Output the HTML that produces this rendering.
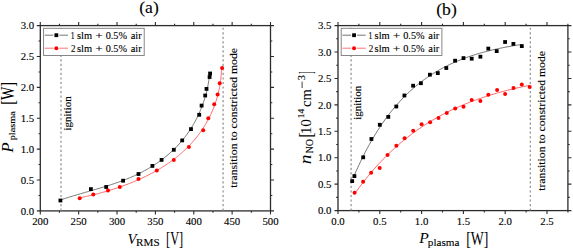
<!DOCTYPE html>
<html><head><meta charset="utf-8"><style>
html,body{margin:0;padding:0;background:#fff;}
svg{display:block;}
text{font-family:"Liberation Serif", serif;fill:#000;stroke:#000;stroke-width:0.12px;}
</style></head><body>
<svg width="573" height="249" viewBox="0 0 573 249">
<rect width="573" height="249" fill="#fff"/>
<path d="M40.30,210.90v3.5M40.30,25.60v-3.5M78.67,210.90v3.5M78.67,25.60v-3.5M117.03,210.90v3.5M117.03,25.60v-3.5M155.40,210.90v3.5M155.40,25.60v-3.5M193.77,210.90v3.5M193.77,25.60v-3.5M232.13,210.90v3.5M232.13,25.60v-3.5M270.50,210.90v3.5M270.50,25.60v-3.5M59.48,210.90v1.8M59.48,25.60v-1.8M97.85,210.90v1.8M97.85,25.60v-1.8M136.22,210.90v1.8M136.22,25.60v-1.8M174.58,210.90v1.8M174.58,25.60v-1.8M212.95,210.90v1.8M212.95,25.60v-1.8M251.32,210.90v1.8M251.32,25.60v-1.8M40.30,210.90h-3.5M270.50,210.90h3.5M40.30,180.02h-3.5M270.50,180.02h3.5M40.30,149.13h-3.5M270.50,149.13h3.5M40.30,118.25h-3.5M270.50,118.25h3.5M40.30,87.37h-3.5M270.50,87.37h3.5M40.30,56.48h-3.5M270.50,56.48h3.5M40.30,25.60h-3.5M270.50,25.60h3.5M40.30,195.46h-1.8M270.50,195.46h1.8M40.30,164.57h-1.8M270.50,164.57h1.8M40.30,133.69h-1.8M270.50,133.69h1.8M40.30,102.81h-1.8M270.50,102.81h1.8M40.30,71.93h-1.8M270.50,71.93h1.8M40.30,41.04h-1.8M270.50,41.04h1.8" stroke="#2c2c2c" stroke-width="1.1" fill="none"/>
<rect x="40.30" y="25.60" width="230.20" height="185.30" stroke="#2c2c2c" stroke-width="1.3" fill="none"/>
<path d="M61.00,27.66V210.90" stroke="#8e8e8e" stroke-width="1.2" stroke-dasharray="2.2,2.32" fill="none"/>
<path d="M223.10,27.66V210.90" stroke="#8e8e8e" stroke-width="1.2" stroke-dasharray="2.2,2.32" fill="none"/>
<path d="M60.37,200.00 L61.67,199.56 L62.97,199.13 L64.27,198.70 L65.59,198.28 L66.90,197.86 L68.22,197.44 L69.55,197.03 L70.88,196.63 L72.21,196.22 L73.55,195.82 L74.89,195.42 L76.23,195.02 L77.58,194.62 L78.93,194.23 L80.28,193.83 L81.64,193.44 L83.00,193.05 L84.36,192.66 L85.72,192.26 L87.09,191.87 L88.45,191.48 L89.82,191.08 L91.19,190.69 L92.56,190.29 L93.93,189.89 L95.31,189.49 L96.68,189.09 L98.05,188.69 L99.42,188.28 L100.79,187.87 L102.17,187.45 L103.54,187.03 L104.91,186.61 L106.28,186.19 L107.65,185.75 L109.01,185.32 L110.38,184.88 L111.74,184.43 L113.10,183.98 L114.46,183.52 L115.82,183.06 L117.18,182.58 L118.53,182.11 L119.88,181.62 L121.22,181.13 L122.56,180.63 L123.90,180.12 L125.24,179.60 L126.57,179.07 L127.89,178.54 L129.21,178.00 L130.53,177.44 L131.84,176.88 L133.15,176.31 L134.45,175.72 L135.75,175.13 L137.04,174.52 L138.32,173.91 L139.60,173.28 L140.88,172.64 L142.14,171.99 L143.40,171.33 L144.66,170.65 L145.90,169.97 L147.14,169.27 L148.37,168.56 L149.60,167.84 L150.81,167.11 L152.02,166.37 L153.22,165.61 L154.41,164.84 L155.60,164.06 L156.77,163.27 L157.94,162.47 L159.09,161.66 L160.24,160.83 L161.38,160.00 L162.51,159.15 L163.63,158.29 L164.74,157.42 L165.84,156.53 L166.93,155.64 L168.01,154.73 L169.07,153.81 L170.13,152.88 L171.18,151.94 L172.21,150.99 L173.24,150.02 L174.25,149.05 L175.25,148.06 L176.24,147.06 L177.21,146.05 L178.18,145.02 L179.13,143.99 L180.07,142.94 L180.99,141.88 L181.91,140.81 L182.81,139.73 L183.70,138.64 L184.57,137.53 L185.43,136.41 L186.28,135.29 L187.11,134.15 L187.93,133.00 L188.73,131.84 L189.53,130.67 L190.30,129.49 L191.07,128.30 L191.82,127.10 L192.56,125.89 L193.28,124.67 L193.99,123.45 L194.68,122.21 L195.36,120.96 L196.03,119.71 L196.68,118.45 L197.32,117.18 L197.94,115.90 L198.55,114.61 L199.14,113.32 L199.72,112.02 L200.28,110.71 L200.83,109.39 L201.37,108.07 L201.89,106.74 L202.39,105.40 L202.88,104.06 L203.35,102.71 L203.81,101.35 L204.26,99.99 L204.69,98.62 L205.10,97.25 L205.50,95.87 L205.88,94.49 L206.25,93.10 L206.60,91.71 L206.93,90.31 L207.25,88.91 L207.56,87.51 L207.85,86.10 L208.12,84.68 L208.37,83.27 L208.61,81.85 L208.84,80.42 L209.05,79.00 L209.24,77.57 L209.41,76.13 L209.57,74.70 L209.71,73.26" stroke="#555" stroke-width="0.8" fill="none" stroke-linejoin="round"/>
<path d="M79.77,197.80 L81.09,197.53 L82.42,197.25 L83.75,196.97 L85.09,196.68 L86.42,196.39 L87.76,196.09 L89.10,195.78 L90.45,195.47 L91.79,195.15 L93.14,194.82 L94.49,194.49 L95.84,194.15 L97.19,193.81 L98.54,193.46 L99.90,193.10 L101.25,192.73 L102.61,192.36 L103.96,191.98 L105.32,191.60 L106.67,191.21 L108.03,190.81 L109.39,190.40 L110.74,189.99 L112.09,189.57 L113.45,189.14 L114.80,188.70 L116.15,188.26 L117.50,187.81 L118.85,187.35 L120.20,186.89 L121.55,186.42 L122.89,185.94 L124.23,185.45 L125.57,184.95 L126.91,184.45 L128.24,183.94 L129.57,183.42 L130.90,182.89 L132.22,182.36 L133.54,181.82 L134.86,181.27 L136.18,180.71 L137.49,180.14 L138.79,179.57 L140.10,178.98 L141.39,178.39 L142.69,177.79 L143.97,177.18 L145.26,176.56 L146.54,175.94 L147.81,175.30 L149.08,174.66 L150.34,174.01 L151.60,173.35 L152.85,172.68 L154.09,172.00 L155.33,171.31 L156.56,170.61 L157.79,169.91 L159.00,169.19 L160.21,168.47 L161.42,167.73 L162.62,166.99 L163.80,166.24 L164.99,165.48 L166.16,164.71 L167.33,163.93 L168.48,163.13 L169.63,162.33 L170.77,161.53 L171.90,160.71 L173.03,159.88 L174.14,159.04 L175.25,158.19 L176.34,157.33 L177.43,156.46 L178.50,155.58 L179.57,154.69 L180.63,153.79 L181.67,152.88 L182.71,151.96 L183.73,151.03 L184.75,150.09 L185.75,149.14 L186.74,148.18 L187.72,147.21 L188.69,146.22 L189.65,145.23 L190.59,144.23 L191.53,143.21 L192.45,142.19 L193.36,141.15 L194.26,140.11 L195.14,139.05 L196.02,137.98 L196.88,136.91 L197.72,135.82 L198.56,134.72 L199.38,133.62 L200.19,132.50 L200.99,131.38 L201.77,130.24 L202.54,129.10 L203.30,127.94 L204.04,126.78 L204.77,125.60 L205.48,124.42 L206.18,123.23 L206.87,122.03 L207.54,120.82 L208.20,119.60 L208.85,118.37 L209.48,117.13 L210.09,115.89 L210.69,114.63 L211.28,113.37 L211.85,112.10 L212.40,110.82 L212.95,109.53 L213.47,108.23 L213.98,106.93 L214.48,105.61 L214.95,104.29 L215.42,102.96 L215.86,101.62 L216.30,100.28 L216.71,98.92 L217.11,97.56 L217.49,96.19 L217.86,94.81 L218.21,93.43 L218.54,92.04 L218.86,90.64 L219.16,89.23 L219.44,87.82 L219.70,86.40 L219.95,84.97 L220.18,83.53 L220.40,82.09 L220.59,80.64 L220.77,79.18 L220.93,77.72 L221.07,76.25 L221.20,74.78 L221.30,73.29 L221.39,71.80 L221.46,70.31 L221.51,68.80 L221.54,67.30" stroke="#f44" stroke-width="0.8" fill="none" stroke-linejoin="round"/>
<rect x="58.50" y="198.60" width="3.8" height="3.8" fill="#000"/><rect x="89.00" y="187.20" width="3.8" height="3.8" fill="#000"/><rect x="104.30" y="185.10" width="3.8" height="3.8" fill="#000"/><rect x="121.20" y="178.80" width="3.8" height="3.8" fill="#000"/><rect x="136.60" y="172.10" width="3.8" height="3.8" fill="#000"/><rect x="150.50" y="164.00" width="3.8" height="3.8" fill="#000"/><rect x="159.70" y="158.00" width="3.8" height="3.8" fill="#000"/><rect x="171.90" y="147.90" width="3.8" height="3.8" fill="#000"/><rect x="180.30" y="138.50" width="3.8" height="3.8" fill="#000"/><rect x="189.10" y="127.20" width="3.8" height="3.8" fill="#000"/><rect x="197.30" y="112.90" width="3.8" height="3.8" fill="#000"/><rect x="199.70" y="103.70" width="3.8" height="3.8" fill="#000"/><rect x="203.30" y="93.60" width="3.8" height="3.8" fill="#000"/><rect x="204.60" y="87.00" width="3.8" height="3.8" fill="#000"/><rect x="207.70" y="75.10" width="3.8" height="3.8" fill="#000"/><rect x="208.20" y="71.60" width="3.8" height="3.8" fill="#000"/>
<circle cx="79.70" cy="198.30" r="2.0" fill="#f00"/><circle cx="93.30" cy="194.60" r="2.0" fill="#f00"/><circle cx="108.00" cy="190.40" r="2.0" fill="#f00"/><circle cx="119.80" cy="187.10" r="2.0" fill="#f00"/><circle cx="138.50" cy="178.90" r="2.0" fill="#f00"/><circle cx="156.80" cy="170.40" r="2.0" fill="#f00"/><circle cx="173.80" cy="159.90" r="2.0" fill="#f00"/><circle cx="188.90" cy="147.00" r="2.0" fill="#f00"/><circle cx="203.20" cy="130.30" r="2.0" fill="#f00"/><circle cx="208.30" cy="118.20" r="2.0" fill="#f00"/><circle cx="214.20" cy="104.30" r="2.0" fill="#f00"/><circle cx="217.60" cy="94.60" r="2.0" fill="#f00"/><circle cx="219.70" cy="83.30" r="2.0" fill="#f00"/><circle cx="222.10" cy="68.00" r="2.0" fill="#f00"/>
<text x="40.30" y="225.00" font-size="10.8" text-anchor="middle" >200</text>
<text x="78.67" y="225.00" font-size="10.8" text-anchor="middle" >250</text>
<text x="117.03" y="225.00" font-size="10.8" text-anchor="middle" >300</text>
<text x="155.40" y="225.00" font-size="10.8" text-anchor="middle" >350</text>
<text x="193.77" y="225.00" font-size="10.8" text-anchor="middle" >400</text>
<text x="232.13" y="225.00" font-size="10.8" text-anchor="middle" >450</text>
<text x="270.50" y="225.00" font-size="10.8" text-anchor="middle" >500</text>
<text x="34.20" y="214.60" font-size="10.8" text-anchor="end" >0.0</text>
<text x="34.20" y="183.72" font-size="10.8" text-anchor="end" >0.5</text>
<text x="34.20" y="152.83" font-size="10.8" text-anchor="end" >1.0</text>
<text x="34.20" y="121.95" font-size="10.8" text-anchor="end" >1.5</text>
<text x="34.20" y="91.07" font-size="10.8" text-anchor="end" >2.0</text>
<text x="34.20" y="60.18" font-size="10.8" text-anchor="end" >2.5</text>
<text x="34.20" y="29.30" font-size="10.8" text-anchor="end" >3.0</text>
<text x="149.00" y="13.20" font-size="17.6" text-anchor="middle" >(a)</text>
<rect x="43.60" y="28.30" width="100.60" height="27.20" stroke="#7a7a7a" stroke-width="0.9" fill="#fff"/>
<path d="M44.70,35.20H53.35M59.35,35.20H68.00" stroke="#666" stroke-width="0.9"/>
<rect x="54.45" y="33.30" width="3.8" height="3.8" fill="#000"/>
<path d="M44.70,48.20H53.35M59.35,48.20H68.00" stroke="#f66" stroke-width="0.9"/>
<circle cx="56.35" cy="48.20" r="2.0" fill="#f00"/>
<text x="70.78" y="38.50" font-size="10.00" textLength="3.83" lengthAdjust="spacingAndGlyphs">1</text>
<text x="77.02" y="38.50" font-size="10.00" textLength="15.09" lengthAdjust="spacingAndGlyphs">slm</text>
<text x="95.29" y="38.50" font-size="10.00" textLength="7.51" lengthAdjust="spacingAndGlyphs">+</text>
<text x="105.66" y="38.50" font-size="10.00" textLength="21.34" lengthAdjust="spacingAndGlyphs">0.5%</text>
<text x="130.68" y="38.50" font-size="10.00" textLength="11.06" lengthAdjust="spacingAndGlyphs">air</text>
<text x="71.06" y="51.50" font-size="10.00" textLength="4.49" lengthAdjust="spacingAndGlyphs">2</text>
<text x="77.02" y="51.50" font-size="10.00" textLength="15.09" lengthAdjust="spacingAndGlyphs">slm</text>
<text x="95.29" y="51.50" font-size="10.00" textLength="7.51" lengthAdjust="spacingAndGlyphs">+</text>
<text x="105.66" y="51.50" font-size="10.00" textLength="21.34" lengthAdjust="spacingAndGlyphs">0.5%</text>
<text x="130.68" y="51.50" font-size="10.00" textLength="11.06" lengthAdjust="spacingAndGlyphs">air</text>
<text transform="rotate(-90)" x="-130.53" y="71.26" font-size="9.91" textLength="34.20" lengthAdjust="spacingAndGlyphs" >ignition</text>
<text transform="rotate(-90)" x="-187.71" y="236.71" font-size="9.52" textLength="139.72" lengthAdjust="spacingAndGlyphs" >transition to constricted mode</text>
<path d="M338.00,210.60v3.5M338.00,25.60v-3.5M379.80,210.60v3.5M379.80,25.60v-3.5M421.60,210.60v3.5M421.60,25.60v-3.5M463.40,210.60v3.5M463.40,25.60v-3.5M505.20,210.60v3.5M505.20,25.60v-3.5M547.00,210.60v3.5M547.00,25.60v-3.5M358.90,210.60v1.8M358.90,25.60v-1.8M400.70,210.60v1.8M400.70,25.60v-1.8M442.50,210.60v1.8M442.50,25.60v-1.8M484.30,210.60v1.8M484.30,25.60v-1.8M526.10,210.60v1.8M526.10,25.60v-1.8M567.90,210.60v1.8M567.90,25.60v-1.8M338.00,210.60h-3.5M567.90,210.60h3.5M338.00,184.17h-3.5M567.90,184.17h3.5M338.00,157.74h-3.5M567.90,157.74h3.5M338.00,131.31h-3.5M567.90,131.31h3.5M338.00,104.89h-3.5M567.90,104.89h3.5M338.00,78.46h-3.5M567.90,78.46h3.5M338.00,52.03h-3.5M567.90,52.03h3.5M338.00,25.60h-3.5M567.90,25.60h3.5M338.00,197.39h-1.8M567.90,197.39h1.8M338.00,170.96h-1.8M567.90,170.96h1.8M338.00,144.53h-1.8M567.90,144.53h1.8M338.00,118.10h-1.8M567.90,118.10h1.8M338.00,91.67h-1.8M567.90,91.67h1.8M338.00,65.24h-1.8M567.90,65.24h1.8M338.00,38.81h-1.8M567.90,38.81h1.8" stroke="#2c2c2c" stroke-width="1.1" fill="none"/>
<rect x="338.00" y="25.60" width="229.90" height="185.00" stroke="#2c2c2c" stroke-width="1.3" fill="none"/>
<path d="M351.10,27.66V210.60" stroke="#8e8e8e" stroke-width="1.2" stroke-dasharray="2.2,2.32" fill="none"/>
<path d="M530.30,27.66V210.60" stroke="#8e8e8e" stroke-width="1.2" stroke-dasharray="2.2,2.32" fill="none"/>
<path d="M354.40,175.11 L356.52,170.30 L358.64,165.66 L360.76,161.18 L362.88,156.85 L364.99,152.67 L367.11,148.64 L369.23,144.74 L371.35,140.98 L373.47,137.35 L375.59,133.85 L377.71,130.46 L379.83,127.20 L381.95,124.04 L384.07,121.00 L386.18,118.06 L388.30,115.22 L390.42,112.48 L392.54,109.83 L394.66,107.28 L396.78,104.81 L398.90,102.43 L401.02,100.13 L403.14,97.91 L405.26,95.76 L407.37,93.69 L409.49,91.70 L411.61,89.77 L413.73,87.90 L415.85,86.11 L417.97,84.37 L420.09,82.69 L422.21,81.08 L424.33,79.51 L426.45,78.00 L428.56,76.55 L430.68,75.14 L432.80,73.78 L434.92,72.47 L437.04,71.21 L439.16,69.99 L441.28,68.81 L443.40,67.67 L445.52,66.57 L447.64,65.50 L449.75,64.48 L451.87,63.49 L453.99,62.53 L456.11,61.61 L458.23,60.72 L460.35,59.86 L462.47,59.03 L464.59,58.23 L466.71,57.46 L468.83,56.71 L470.94,55.99 L473.06,55.29 L475.18,54.62 L477.30,53.97 L479.42,53.34 L481.54,52.74 L483.66,52.15 L485.78,51.59 L487.90,51.04 L490.02,50.52 L492.13,50.01 L494.25,49.52 L496.37,49.05 L498.49,48.59 L500.61,48.15 L502.73,47.72 L504.85,47.31 L506.97,46.91 L509.09,46.53 L511.21,46.16 L513.32,45.80 L515.44,45.46 L517.56,45.12 L519.68,44.80 L521.80,44.49" stroke="#555" stroke-width="0.8" fill="none" stroke-linejoin="round"/>
<path d="M354.60,193.92 L356.82,190.81 L359.03,187.78 L361.25,184.82 L363.47,181.94 L365.68,179.12 L367.90,176.38 L370.12,173.70 L372.33,171.09 L374.55,168.54 L376.76,166.06 L378.98,163.64 L381.20,161.27 L383.41,158.97 L385.63,156.72 L387.85,154.53 L390.06,152.39 L392.28,150.30 L394.50,148.27 L396.71,146.28 L398.93,144.35 L401.15,142.46 L403.36,140.62 L405.58,138.82 L407.79,137.07 L410.01,135.36 L412.23,133.69 L414.44,132.07 L416.66,130.48 L418.88,128.93 L421.09,127.43 L423.31,125.96 L425.53,124.52 L427.74,123.12 L429.96,121.76 L432.18,120.42 L434.39,119.13 L436.61,117.86 L438.83,116.62 L441.04,115.42 L443.26,114.24 L445.47,113.10 L447.69,111.98 L449.91,110.89 L452.12,109.82 L454.34,108.79 L456.56,107.77 L458.77,106.79 L460.99,105.82 L463.21,104.89 L465.42,103.97 L467.64,103.08 L469.86,102.20 L472.07,101.35 L474.29,100.53 L476.51,99.72 L478.72,98.93 L480.94,98.16 L483.15,97.41 L485.37,96.68 L487.59,95.96 L489.80,95.27 L492.02,94.59 L494.24,93.93 L496.45,93.28 L498.67,92.65 L500.89,92.04 L503.10,91.44 L505.32,90.85 L507.54,90.28 L509.75,89.73 L511.97,89.18 L514.18,88.65 L516.40,88.14 L518.62,87.64 L520.83,87.14 L523.05,86.67 L525.27,86.20 L527.48,85.74 L529.70,85.30" stroke="#f44" stroke-width="0.8" fill="none" stroke-linejoin="round"/>
<rect x="350.30" y="179.20" width="3.8" height="3.8" fill="#000"/><rect x="352.50" y="174.20" width="3.8" height="3.8" fill="#000"/><rect x="361.30" y="155.40" width="3.8" height="3.8" fill="#000"/><rect x="369.50" y="137.10" width="3.8" height="3.8" fill="#000"/><rect x="377.90" y="122.90" width="3.8" height="3.8" fill="#000"/><rect x="386.40" y="115.00" width="3.8" height="3.8" fill="#000"/><rect x="394.40" y="104.60" width="3.8" height="3.8" fill="#000"/><rect x="402.50" y="93.60" width="3.8" height="3.8" fill="#000"/><rect x="411.20" y="83.80" width="3.8" height="3.8" fill="#000"/><rect x="419.00" y="81.30" width="3.8" height="3.8" fill="#000"/><rect x="428.00" y="72.80" width="3.8" height="3.8" fill="#000"/><rect x="435.90" y="71.20" width="3.8" height="3.8" fill="#000"/><rect x="444.40" y="66.10" width="3.8" height="3.8" fill="#000"/><rect x="453.20" y="58.80" width="3.8" height="3.8" fill="#000"/><rect x="461.60" y="56.20" width="3.8" height="3.8" fill="#000"/><rect x="469.80" y="56.80" width="3.8" height="3.8" fill="#000"/><rect x="478.50" y="54.80" width="3.8" height="3.8" fill="#000"/><rect x="486.40" y="46.70" width="3.8" height="3.8" fill="#000"/><rect x="494.80" y="49.20" width="3.8" height="3.8" fill="#000"/><rect x="503.20" y="40.10" width="3.8" height="3.8" fill="#000"/><rect x="511.50" y="42.00" width="3.8" height="3.8" fill="#000"/><rect x="519.90" y="44.20" width="3.8" height="3.8" fill="#000"/>
<circle cx="354.60" cy="192.80" r="2.0" fill="#f00"/><circle cx="363.10" cy="181.70" r="2.0" fill="#f00"/><circle cx="371.10" cy="172.70" r="2.0" fill="#f00"/><circle cx="379.70" cy="168.10" r="2.0" fill="#f00"/><circle cx="387.50" cy="154.90" r="2.0" fill="#f00"/><circle cx="396.40" cy="145.80" r="2.0" fill="#f00"/><circle cx="404.60" cy="138.20" r="2.0" fill="#f00"/><circle cx="413.20" cy="130.80" r="2.0" fill="#f00"/><circle cx="421.60" cy="124.30" r="2.0" fill="#f00"/><circle cx="430.10" cy="122.30" r="2.0" fill="#f00"/><circle cx="438.50" cy="118.10" r="2.0" fill="#f00"/><circle cx="446.80" cy="113.10" r="2.0" fill="#f00"/><circle cx="455.20" cy="108.40" r="2.0" fill="#f00"/><circle cx="463.50" cy="106.70" r="2.0" fill="#f00"/><circle cx="471.70" cy="100.10" r="2.0" fill="#f00"/><circle cx="480.40" cy="101.10" r="2.0" fill="#f00"/><circle cx="488.30" cy="94.70" r="2.0" fill="#f00"/><circle cx="497.10" cy="90.10" r="2.0" fill="#f00"/><circle cx="505.10" cy="94.10" r="2.0" fill="#f00"/><circle cx="513.50" cy="88.00" r="2.0" fill="#f00"/><circle cx="521.80" cy="84.60" r="2.0" fill="#f00"/><circle cx="529.70" cy="86.90" r="2.0" fill="#f00"/>
<text x="338.00" y="225.20" font-size="10.8" text-anchor="middle" >0.0</text>
<text x="379.80" y="225.20" font-size="10.8" text-anchor="middle" >0.5</text>
<text x="421.60" y="225.20" font-size="10.8" text-anchor="middle" >1.0</text>
<text x="463.40" y="225.20" font-size="10.8" text-anchor="middle" >1.5</text>
<text x="505.20" y="225.20" font-size="10.8" text-anchor="middle" >2.0</text>
<text x="547.00" y="225.20" font-size="10.8" text-anchor="middle" >2.5</text>
<text x="331.40" y="214.30" font-size="10.8" text-anchor="end" >0.0</text>
<text x="331.40" y="187.87" font-size="10.8" text-anchor="end" >0.5</text>
<text x="331.40" y="161.44" font-size="10.8" text-anchor="end" >1.0</text>
<text x="331.40" y="135.01" font-size="10.8" text-anchor="end" >1.5</text>
<text x="331.40" y="108.59" font-size="10.8" text-anchor="end" >2.0</text>
<text x="331.40" y="82.16" font-size="10.8" text-anchor="end" >2.5</text>
<text x="331.40" y="55.73" font-size="10.8" text-anchor="end" >3.0</text>
<text x="331.40" y="29.30" font-size="10.8" text-anchor="end" >3.5</text>
<text x="446.50" y="15.20" font-size="17.6" text-anchor="middle" >(b)</text>
<rect x="341.20" y="28.30" width="100.70" height="27.20" stroke="#7a7a7a" stroke-width="0.9" fill="#fff"/>
<path d="M342.40,35.20H351.05M357.05,35.20H365.70" stroke="#666" stroke-width="0.9"/>
<rect x="352.15" y="33.30" width="3.8" height="3.8" fill="#000"/>
<path d="M342.40,48.20H351.05M357.05,48.20H365.70" stroke="#f66" stroke-width="0.9"/>
<circle cx="354.05" cy="48.20" r="2.0" fill="#f00"/>
<text x="368.38" y="38.50" font-size="10.00" textLength="3.83" lengthAdjust="spacingAndGlyphs">1</text>
<text x="374.62" y="38.50" font-size="10.00" textLength="15.09" lengthAdjust="spacingAndGlyphs">slm</text>
<text x="392.89" y="38.50" font-size="10.00" textLength="7.51" lengthAdjust="spacingAndGlyphs">+</text>
<text x="403.26" y="38.50" font-size="10.00" textLength="21.34" lengthAdjust="spacingAndGlyphs">0.5%</text>
<text x="428.28" y="38.50" font-size="10.00" textLength="11.06" lengthAdjust="spacingAndGlyphs">air</text>
<text x="368.66" y="51.50" font-size="10.00" textLength="4.49" lengthAdjust="spacingAndGlyphs">2</text>
<text x="374.62" y="51.50" font-size="10.00" textLength="15.09" lengthAdjust="spacingAndGlyphs">slm</text>
<text x="392.89" y="51.50" font-size="10.00" textLength="7.51" lengthAdjust="spacingAndGlyphs">+</text>
<text x="403.26" y="51.50" font-size="10.00" textLength="21.34" lengthAdjust="spacingAndGlyphs">0.5%</text>
<text x="428.28" y="51.50" font-size="10.00" textLength="11.06" lengthAdjust="spacingAndGlyphs">air</text>
<text transform="rotate(-90)" x="-119.83" y="360.74" font-size="9.57" textLength="34.20" lengthAdjust="spacingAndGlyphs" >ignition</text>
<text transform="rotate(-90)" x="-190.81" y="545.11" font-size="9.66" textLength="139.82" lengthAdjust="spacingAndGlyphs" >transition to constricted mode</text>
<text x="127.63" y="243.68" font-size="14.78" font-style="italic" textLength="9.05" lengthAdjust="spacingAndGlyphs"  style="stroke-width:0px">V</text>
<text x="136.08" y="246.41" font-size="9.67" textLength="23.51" lengthAdjust="spacingAndGlyphs" >RMS</text>
<text x="166.08" y="245.38" font-size="18.12" textLength="17.13" lengthAdjust="spacingAndGlyphs"  style="stroke-width:0px">[V]</text>
<text transform="rotate(-90)" x="-152.61" y="12.70" font-size="15.73" font-style="italic" textLength="10.13" lengthAdjust="spacingAndGlyphs"  style="stroke-width:0px">P</text>
<text transform="rotate(-90)" x="-140.37" y="14.72" font-size="8.82" textLength="29.11" lengthAdjust="spacingAndGlyphs" >plasma</text>
<text transform="rotate(-90)" x="-104.65" y="13.81" font-size="17.88" textLength="22.69" lengthAdjust="spacingAndGlyphs"  style="stroke-width:0px">[W]</text>
<text x="419.28" y="243.00" font-size="13.74" font-style="italic" textLength="9.51" lengthAdjust="spacingAndGlyphs"  style="stroke-width:0px">P</text>
<text x="427.82" y="245.88" font-size="11.36" textLength="31.63" lengthAdjust="spacingAndGlyphs" >plasma</text>
<text x="466.18" y="244.81" font-size="17.88" textLength="22.14" lengthAdjust="spacingAndGlyphs"  style="stroke-width:0px">[W]</text>
<text transform="rotate(-90)" x="-164.29" y="311.40" font-size="15.70" font-style="italic" textLength="9.70" lengthAdjust="spacingAndGlyphs"  style="stroke-width:0px">n</text>
<text transform="rotate(-90)" x="-153.49" y="312.90" font-size="10.72" textLength="14.50" lengthAdjust="spacingAndGlyphs" >NO</text>
<text transform="rotate(-90)" x="-137.83" y="311.98" font-size="18.12" textLength="5.53" lengthAdjust="spacingAndGlyphs"  style="stroke-width:0px">[</text>
<text transform="rotate(-90)" x="-134.34" y="311.15" font-size="15.41" textLength="15.22" lengthAdjust="spacingAndGlyphs"  style="stroke-width:0px">10</text>
<text transform="rotate(-90)" x="-118.21" y="304.20" font-size="8.94" textLength="9.26" lengthAdjust="spacingAndGlyphs" >14</text>
<text transform="rotate(-90)" x="-106.96" y="311.07" font-size="13.72" textLength="17.89" lengthAdjust="spacingAndGlyphs"  style="stroke-width:0px">cm</text>
<text transform="rotate(-90)" x="-80.29" y="304.51" font-size="9.53" textLength="5.08" lengthAdjust="spacingAndGlyphs" >3</text>
<path d="M302.1,81.6V88.0" stroke="#000" stroke-width="0.75"/>
<text transform="rotate(-90)" x="-73.86" y="312.18" font-size="18.85" textLength="2.39" lengthAdjust="spacingAndGlyphs"  style="stroke-width:0px">]</text>
</svg></body></html>
